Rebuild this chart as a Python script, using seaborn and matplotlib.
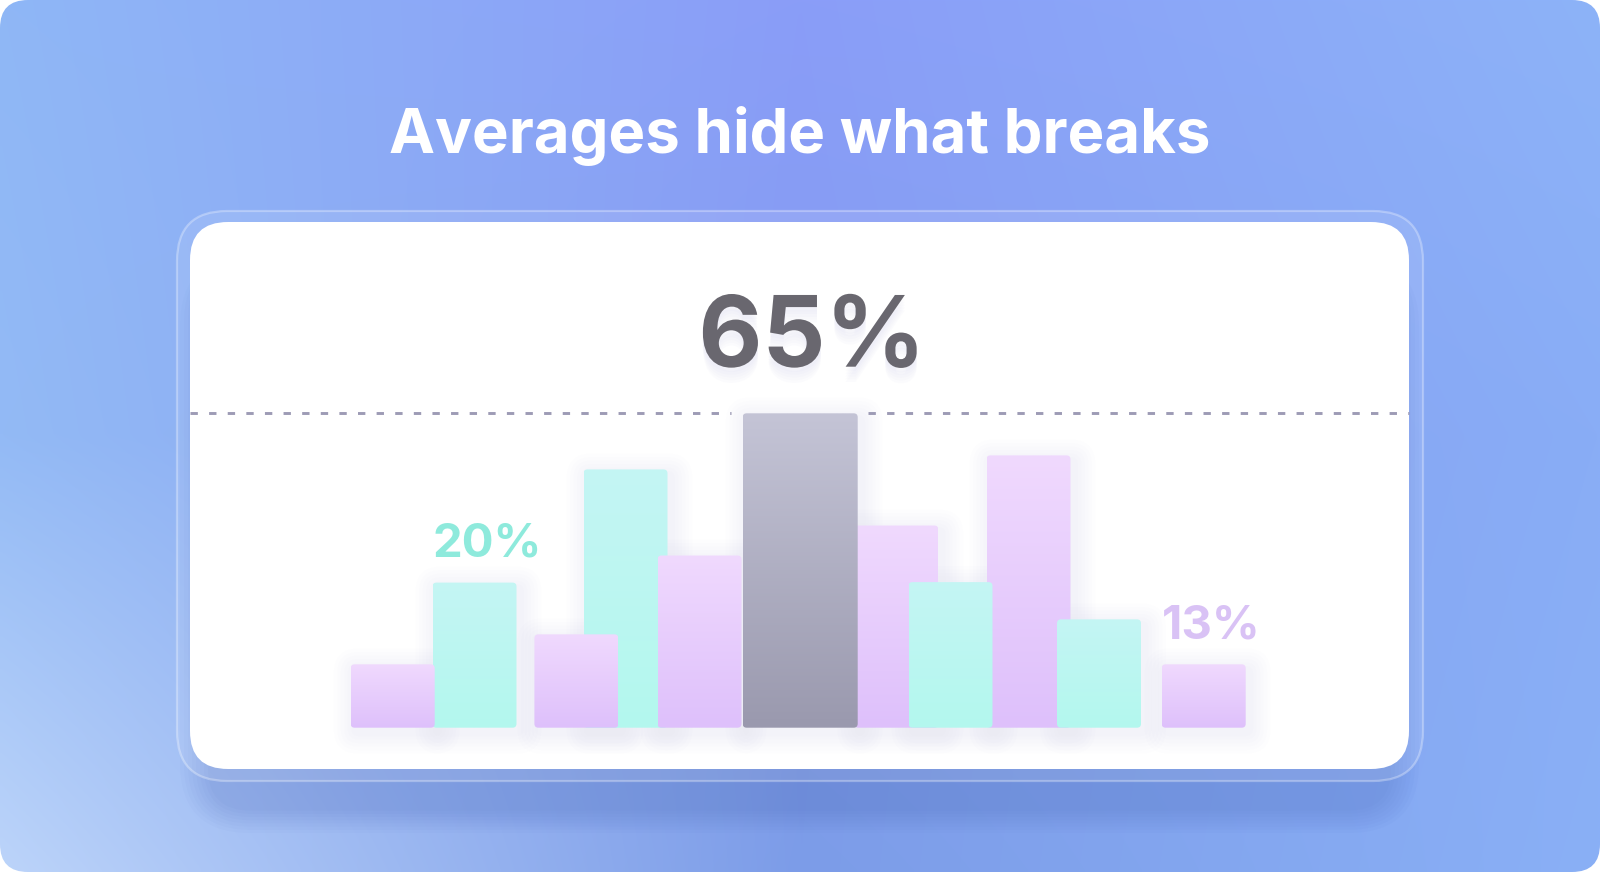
import numpy as np
import matplotlib
matplotlib.use("Agg")
import matplotlib.pyplot as plt
import seaborn as sns
from matplotlib.patches import FancyBboxPatch
from matplotlib import patheffects as pe

# ---------------- data ----------------
title = "Averages hide what breaks"
bar_x = [392.7, 474.5, 576.4, 625.5, 699.5, 800.2, 896.3, 950.5, 1028.5, 1099.0, 1203.7]
bar_values = [13.1, 30.0, 19.3, 53.4, 35.6, 65.0, 41.8, 30.1, 56.3, 22.4, 13.1]
bar_group = ["lav", "cyan", "lav", "cyan", "lav", "avg", "lav", "cyan", "lav", "cyan", "lav"]
draw_order = [3, 1, 0, 2, 4, 6, 8, 7, 9, 10, 5]      # back to front
average_value = 65.0
average_label = "65%"
callout_bars = [1, 10]
callout_labels = ["20%", "13%"]

# ---------------- style ----------------
W_PX, H_PX = 1600, 872
BASE_PX = 727.7           # pixel row of the bar baseline
PX_PER_UNIT = 4.837       # pixels per value unit
CARD = (190, 222, 1409, 769)
BAR_W = {"lav": 84, "cyan": 84, "avg": 115}
GRAD = {"lav": ("#f0d9fe", "#dec0fb"),
        "cyan": ("#c4f5f4", "#b3f8ee"),
        "avg": ("#c4c4d6", "#9a99ae")}
LABEL_COL = {"lav": "#d9c2f5", "cyan": "#8eeadc"}
BG = [["#8fb7f6", "#8a9df8", "#8db3f8"],
      ["#93baf5", "#849bf0", "#89adf6"],
      ["#bcd4fa", "#7c9ce8", "#8ab0f6"]]

sns.set_theme(style="white")
plt.rcParams["font.family"] = ["Inter", "DejaVu Sans"]
plt.rcParams["lines.scale_dashes"] = False


def hex2rgb(h):
    h = h.lstrip("#")
    return np.array([int(h[i:i + 2], 16) / 255 for i in (0, 2, 4)])


fig = plt.figure(figsize=(W_PX / 100, H_PX / 100), dpi=100, facecolor="white")

# ---------- background axes (pixel coordinates) ----------
ax_bg = fig.add_axes([0, 0, 1, 1], zorder=0)
ax_bg.set_xlim(0, W_PX)
ax_bg.set_ylim(H_PX, 0)
ax_bg.axis("off")

gh, gw = 218, 400
xs = np.linspace(0, W_PX, gw)
ys = np.linspace(0, H_PX, gh)
ax_anch = [0, W_PX / 2, W_PX]
ay_anch = [0, H_PX / 2, H_PX]
grid = np.array([[hex2rgb(c) for c in row] for row in BG])
rows = np.zeros((3, gw, 3))
for r in range(3):
    for k in range(3):
        rows[r, :, k] = np.interp(xs, ax_anch, grid[r, :, k])
img = np.zeros((gh, gw, 3))
for j in range(gw):
    for k in range(3):
        img[:, j, k] = np.interp(ys, ay_anch, rows[:, j, k])
bg_im = ax_bg.imshow(img, extent=[0, W_PX, H_PX, 0], aspect="auto",
                     interpolation="bilinear", zorder=0)
clip = FancyBboxPatch((0, 0), W_PX, H_PX, boxstyle="round,pad=0,rounding_size=28",
                      transform=ax_bg.transData, facecolor="none", edgecolor="none")
ax_bg.add_patch(clip)
bg_im.set_clip_path(clip)

cl, ct, cr, cb = CARD
# card drop shadow
for i in range(8):
    e = 2 + i * 4
    sh = FancyBboxPatch((cl + 20 - e, ct + 40 - e * 0.2), (cr - cl) - 40 + 2 * e, (cb - ct) + e * 1.0,
                        boxstyle=f"round,pad=0,rounding_size={40 + e}",
                        facecolor="#2c4cae", edgecolor="none", alpha=0.022, zorder=1)
    ax_bg.add_patch(sh)
    sh.set_clip_path(clip)

# translucent rim
rim = FancyBboxPatch((cl - 13, ct - 11), (cr - cl) + 27, (cb - ct) + 23,
                     boxstyle="round,pad=0,rounding_size=50",
                     facecolor=(1, 1, 1, 0.10), edgecolor=(1, 1, 1, 0.30),
                     linewidth=1.6, zorder=2)
ax_bg.add_patch(rim)
# white card
card = FancyBboxPatch((cl, ct), cr - cl, cb - ct, boxstyle="round,pad=0,rounding_size=38",
                      facecolor="white", edgecolor="none", zorder=3)
ax_bg.add_patch(card)

# title
ax_bg.text(800, 152.7, title, ha="center", va="baseline", fontsize=44.4,
           fontweight="bold", color="white", zorder=5)

# big average label with a soft shadow
shadow_fx = [pe.SimplePatchShadow(offset=(0, -k), shadow_rgbFace="#c8c8ea", alpha=0.06)
             for k in (3, 5, 7, 9, 11)]
ax_bg.text(812, 366.7, average_label, ha="center", va="baseline", fontsize=71,
           fontweight="bold", color="#69676f", zorder=5,
           path_effects=shadow_fx + [pe.Normal()])

# ---------- bars axes ----------
ax = fig.add_axes([0, 0, 1, 1], zorder=1)
ax.set_facecolor("none")
ylo = -(H_PX - BASE_PX) / PX_PER_UNIT
yhi = BASE_PX / PX_PER_UNIT
asp = 1 / PX_PER_UNIT

bar_geo = {}
for rank, i in enumerate(draw_order):
    g = bar_group[i]
    n0 = len(ax.patches)
    sns.barplot(x=[bar_x[i]], y=[bar_values[i]], native_scale=True, width=BAR_W[g],
                color=GRAD[g][1], errorbar=None, ax=ax, zorder=10 + rank)
    p = ax.patches[n0]
    x0, w, h = p.get_x(), p.get_width(), p.get_height()
    p.set_visible(False)
    bar_geo[i] = (x0, w, h)

    # soft shadow
    for j in range(1, 7):
        e = j * 3.5
        s = FancyBboxPatch((x0 - e + 4, -(e + 5) * asp), w + 2 * e, h + (2 * e) * asp,
                           boxstyle=f"round,pad=0,rounding_size={4 + e}", mutation_aspect=asp,
                           facecolor="#9a9ad0", edgecolor="none", alpha=0.012, zorder=2)
        ax.add_patch(s)

    # gradient body with rounded top
    rb = FancyBboxPatch((x0, 0), w, h, boxstyle="round,pad=0,rounding_size=4",
                        mutation_aspect=asp, facecolor="none", edgecolor="none",
                        zorder=10 + rank)
    ax.add_patch(rb)
    top, bot = hex2rgb(GRAD[g][0]), hex2rgb(GRAD[g][1])
    t = np.linspace(0, 1, 128)[:, None]
    grad = (top[None, :] * (1 - t) + bot[None, :] * t)[:, None, :]
    im = ax.imshow(grad, extent=[x0, x0 + w, 0, h], origin="upper", aspect="auto",
                   interpolation="bilinear", zorder=10 + rank)
    im.set_clip_path(rb)

# dashed average line, broken around the average bar
gx0, gw_, _ = bar_geo[bar_group.index("avg")]
for xa, xb in [(cl, gx0 - 12), (gx0 + gw_ + 10, cr)]:
    ln = ax.hlines(average_value, xa, xb, colors="#9d9bb5", linewidth=2.1, zorder=5)
    ln.set_linestyle((0, (5.3, 8.1)))

# callout labels, aligned on bar left edge
for bi, lab in zip(callout_bars, callout_labels):
    x0, w, h = bar_geo[bi]
    ax.text(x0, bar_values[bi] + 26 / PX_PER_UNIT, lab, ha="left", va="baseline",
            fontsize=34, fontweight="bold", color=LABEL_COL[bar_group[bi]], zorder=40)

ax.set_xlim(0, W_PX)
ax.set_ylim(ylo, yhi)
ax.axis("off")

fig.savefig("out.png", dpi=100, facecolor="white")
